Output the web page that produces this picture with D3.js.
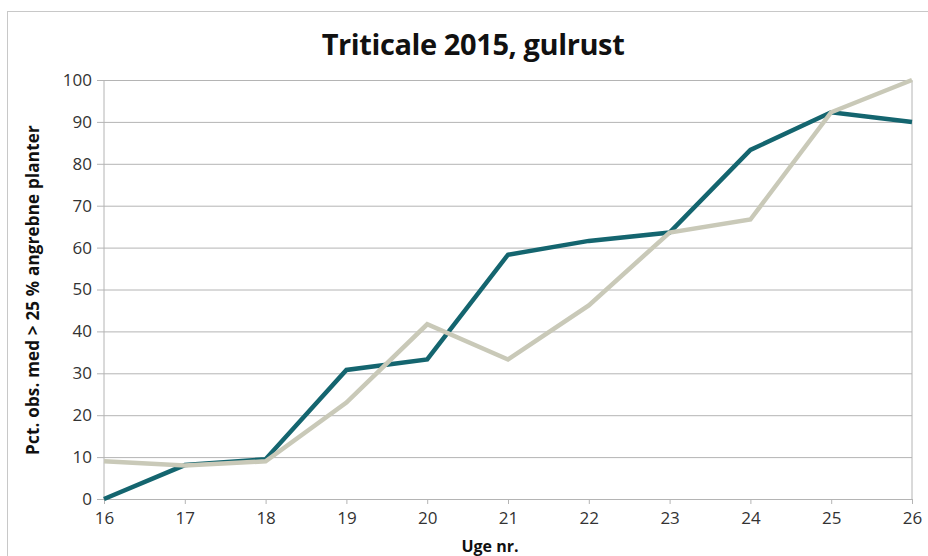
<!DOCTYPE html>
<html><head><meta charset="utf-8">
<script src="https://cdn.jsdelivr.net/npm/d3@7"></script>
<style>
html,body{margin:0;padding:0;background:#fff;}
svg{display:block;}
</style></head>
<body>
<svg id="c" width="928" height="556"></svg>
<script>
const weeks = [16,17,18,19,20,21,22,23,24,25,26];
const seriesTeal = [0,8.1,9.5,30.8,33.3,58.3,61.6,63.6,83.3,92.3,90];
const seriesGrey = [9,8,9,23,41.7,33.3,46.2,63.6,66.7,92.3,100];
const yTicks = [0,10,20,30,40,50,60,70,80,90,100];
const titleText = "Triticale 2015, gulrust";
const yLabel = "Pct. obs. med > 25 % angrebne planter";
const xLabel = "Uge nr.";

const svg = d3.select("#c");
const L = 104, R = 912, T = 80, B = 499;
const x = d3.scaleLinear().domain([16,26]).range([L,R]);
const y = d3.scaleLinear().domain([0,100]).range([B,T]);

svg.append("rect").attr("x",7.5).attr("y",11.5).attr("width",940).attr("height",600)
  .attr("fill","none").attr("stroke","#c8c8c8").attr("stroke-width",1);

svg.append("text").attr("x",473).attr("y",55).attr("text-anchor","middle")
  .attr("font-family","'Open Sans',sans-serif").attr("font-weight","bold")
  .attr("font-size",29).attr("letter-spacing",-0.4).attr("fill","#111").text(titleText);

const yAxis = d3.axisLeft(y).tickValues(yTicks).tickSize(-(R-L)).tickSizeOuter(0).tickPadding(12);
const gy = svg.append("g").attr("transform",`translate(${L},0)`).call(yAxis);
gy.select(".domain").remove();
gy.selectAll(".tick line").attr("stroke","#b4b4b4").attr("x1",-7);
gy.selectAll(".tick text").attr("font-family","'Open Sans',sans-serif").attr("font-size",17).attr("fill","#333");

svg.append("line").attr("x1",L).attr("x2",L).attr("y1",T).attr("y2",B).attr("stroke","#b4b4b4");
svg.append("line").attr("x1",R).attr("x2",R).attr("y1",T).attr("y2",B).attr("stroke","#b4b4b4");

const xAxis = d3.axisBottom(x).tickValues(weeks).tickFormat(d3.format("d")).tickSize(5).tickSizeOuter(0).tickPadding(8);
const gx = svg.append("g").attr("transform",`translate(0,${B})`).call(xAxis);
gx.select(".domain").attr("stroke","#b4b4b4");
gx.selectAll(".tick line").attr("stroke","#b4b4b4");
gx.selectAll(".tick text").attr("font-family","'Open Sans',sans-serif").attr("font-size",17).attr("fill","#333");

const line = d3.line().x((d,i)=>x(weeks[i])).y(d=>y(d));
svg.append("path").datum(seriesTeal).attr("d",line).attr("fill","none")
  .attr("stroke","#14656f").attr("stroke-width",4.5).attr("stroke-linejoin","miter");
svg.append("path").datum(seriesGrey).attr("d",line).attr("fill","none")
  .attr("stroke","#c9c9b8").attr("stroke-width",4.5).attr("stroke-linejoin","miter");

svg.append("text").attr("transform","translate(39,290) rotate(-90)").attr("text-anchor","middle")
  .attr("font-family","'Open Sans',sans-serif").attr("font-weight","bold")
  .attr("font-size",17).attr("letter-spacing",0.2).attr("fill","#111").text(yLabel);
svg.append("text").attr("x",490).attr("y",552).attr("text-anchor","middle")
  .attr("font-family","'Open Sans',sans-serif").attr("font-weight","bold")
  .attr("font-size",16).attr("fill","#111").text(xLabel);
</script>
</body></html>
